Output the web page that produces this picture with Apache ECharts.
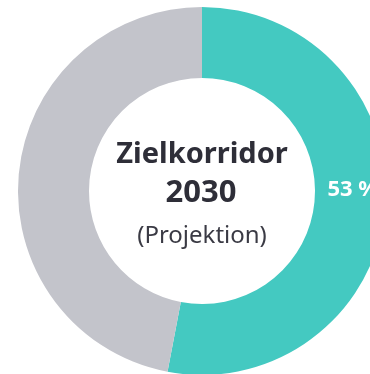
<!DOCTYPE html>
<html>
<head>
<meta charset="utf-8">
<script src="https://cdn.jsdelivr.net/npm/echarts@6/dist/echarts.min.js"></script>
<style>
  html, body { margin: 0; padding: 0; background: #ffffff; }
  #chart { width: 370px; height: 374px; }
</style>
</head>
<body>
<div id="chart"></div>
<script>
// Share of the target corridor for 2030 (projection)
const categories = ['Anteil', 'Rest'];
const values = [53, 47];
const colors = ['#44c9c1', '#c3c4cb'];
const titleLines = ['Zielkorridor', '2030', '(Projektion)'];

const chart = echarts.init(document.getElementById('chart'), null, { renderer: 'canvas' });

const FONT = '"Noto Sans", sans-serif';

chart.setOption({
  animation: false,
  backgroundColor: '#ffffff',
  graphic: [
    {
      type: 'text',
      style: {
        x: 202, y: 155, text: titleLines[0], textAlign: 'center', textVerticalAlign: 'middle',
        fill: '#2e2e38', font: 'bold 29px ' + FONT
      }
    },
    {
      type: 'text',
      style: {
        x: 201, y: 193, text: titleLines[1], textAlign: 'center', textVerticalAlign: 'middle',
        fill: '#2e2e38', font: 'bold 31px ' + FONT
      }
    },
    {
      type: 'text',
      style: {
        x: 202, y: 236, text: titleLines[2], textAlign: 'center', textVerticalAlign: 'middle',
        fill: '#3a3a44', font: '24px ' + FONT
      }
    }
  ],
  series: [{
    type: 'pie',
    center: [202, 191],
    radius: [113, 184],
    startAngle: 90,
    clockwise: true,
    silent: true,
    avoidLabelOverlap: false,
    itemStyle: { borderWidth: 0 },
    emphasis: { disabled: true },
    labelLine: { show: false },
    data: categories.map((name, i) => ({
      name: name,
      value: values[i],
      itemStyle: { color: colors[i] },
      label: i === 0 ? {
        show: true,
        position: 'inside',
        formatter: p => p.value + ' %',
        color: '#ffffff',
        fontFamily: FONT,
        fontWeight: 'bold',
        fontSize: 22,
        offset: [0, -16]
      } : { show: false }
    }))
  }]
});
</script>
</body>
</html>
